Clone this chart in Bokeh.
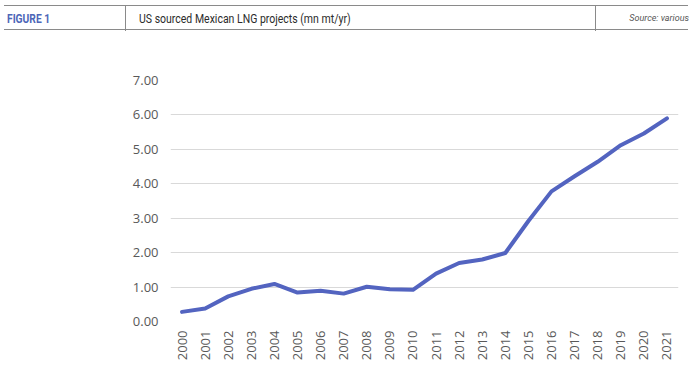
from bokeh.plotting import figure
from bokeh.layouts import column
from bokeh.models import Range1d, FactorRange, NumeralTickFormatter, FixedTicker, Div
from bokeh.embed import file_html
from bokeh.resources import INLINE

# ---- data ----
years = [str(y) for y in range(2000, 2022)]
capacity = [0.28, 0.38, 0.73, 0.95, 1.09, 0.84, 0.89, 0.81, 1.01, 0.94, 0.92,
            1.39, 1.70, 1.80, 1.99, 2.92, 3.78, 4.22, 4.64, 5.12, 5.46, 5.90]
y_ticks = [0, 1, 2, 3, 4, 5, 6, 7]

figure_label = "FIGURE 1"
title_text = "US sourced Mexican LNG projects (mn mt/yr)"
source_text = "Source: various"

W = 684
LC = "#8a8a8a"

header_html = f"""
<div style="position:relative;width:{W}px;height:32px;font-family:Roboto;">
  <div style="position:absolute;left:-1px;top:0px;width:{W}px;height:25px;border-top:1.5px solid {LC};border-bottom:1.5px solid {LC};"></div>
  <div style="position:absolute;left:120px;top:0px;width:471px;height:26px;border-left:1px solid {LC};border-right:1px solid {LC};"></div>
  <div style="position:absolute;left:2px;top:5px;font-size:12.5px;font-weight:bold;color:#4d66b8;white-space:nowrap;transform:scaleX(0.82);transform-origin:left center;">{figure_label}</div>
  <div style="position:absolute;left:134px;top:5px;font-size:12.5px;color:#2b2b2b;white-space:nowrap;transform:scaleX(0.84);transform-origin:left center;">{title_text}</div>
  <div style="position:absolute;right:0px;top:7px;font-size:9px;font-style:italic;color:#555555;white-space:nowrap;">{source_text}</div>
</div>
"""
hdr = Div(text=header_html, width=W, height=32)

# ---- chart ----
p = figure(width=W, height=321, x_range=FactorRange(*years, range_padding=0),
           y_range=Range1d(0, 7), output_backend="svg", toolbar_location=None,
           min_border_left=170, min_border_right=6, min_border_top=38, min_border_bottom=39)
p.outline_line_color = None
p.xgrid.visible = False
p.ygrid.grid_line_color = "#d9d9d9"
p.ygrid.grid_line_width = 1
p.yaxis.ticker = FixedTicker(ticks=y_ticks)
p.yaxis.formatter = NumeralTickFormatter(format="0.00")
for ax in (p.xaxis[0], p.yaxis[0]):
    ax.axis_line_color = None
    ax.major_tick_line_color = None
    ax.minor_tick_line_color = None
    ax.major_tick_out = 0
    ax.major_tick_in = 0
    ax.major_label_text_font = "Open Sans"
    ax.major_label_text_font_size = "13px"
    ax.major_label_text_color = "#595959"
p.yaxis.major_label_standoff = 12
p.xaxis.major_label_standoff = 9
p.xaxis.major_label_orientation = 1.5708

p.line(x=years, y=capacity, line_color="#5364c0", line_width=4, line_join="round", line_cap="round")

layout = column(hdr, p, spacing=0)
open("out.html", "w").write(file_html(layout, INLINE))
